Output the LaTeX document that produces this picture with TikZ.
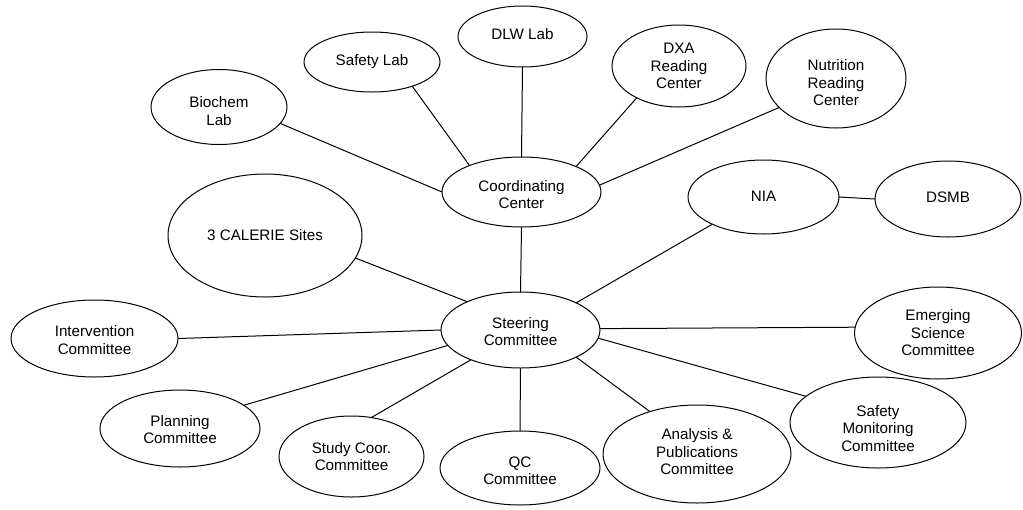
\documentclass[tikz,border=0pt]{standalone}
\usepackage{fontspec}
\setmainfont{Liberation Sans}
\usetikzlibrary{shapes.geometric}
\tikzset{
  el/.style n args={2}{ellipse,draw,line width=1pt,inner sep=0pt,outer sep=0pt,
    minimum width=#1pt,minimum height=#2pt},
  lab/.style={align=center,inner sep=0pt,font=\fontsize{15.2}{17.5}\selectfont},
  txt/.style n args={2}{label={[lab,yshift=#2]center:{#1}}},
  link/.style={draw,line width=1pt}
}
\begin{document}
\begin{tikzpicture}[x=1pt,y=-1pt]
\useasboundingbox[fill=white] (0,0) rectangle (1023,509);
% nodes
\node[el={136}{75},txt={Biochem\\Lab}{-4pt}] (bio) at (219,107) {};
\node[el={136}{60},txt={Safety Lab}{0pt}] (slab) at (372,62) {};
\node[el={129}{61},txt={DLW Lab}{2pt}] (dlw) at (522.5,36.5) {};
\node[el={134}{82},txt={DXA\\Reading\\Center}{0pt}] (dxa) at (679,66) {};
\node[el={140}{99},txt={Nutrition\\Reading\\Center}{-4.5pt}] (nut) at (836,78.5) {};
\node[el={159}{70},txt={Coordinating\\Center}{-2.5pt}] (coord) at (521.5,192) {};
\node[el={151}{74},txt={NIA}{1pt}] (nia) at (763.5,197) {};
\node[el={146}{76},txt={DSMB}{1.5pt}] (dsmb) at (948,199) {};
\node[el={194}{123},txt={3 CALERIE Sites}{0pt}] (cal) at (265,235.5) {};
\node[el={159}{76},txt={Steering\\Committee}{-1.5pt}] (steer) at (520.5,330) {};
\node[el={167}{77},txt={Intervention\\Committee}{-1.5pt}] (int) at (94.5,338.5) {};
\node[el={167}{92},txt={Emerging\\Science\\Committee}{0pt}] (emer) at (938,333) {};
\node[el={160}{77},txt={Planning\\Committee}{-1pt}] (plan) at (180,428.5) {};
\node[el={145}{81},txt={Study Coor.\\Committee}{0pt}] (study) at (351.5,456.5) {};
\node[el={160}{74},txt={QC\\Committee}{-3pt}] (qc) at (520,468) {};
\node[el={188}{98},txt={Analysis \&\\Publications\\Committee}{2pt}] (anal) at (697,454) {};
\node[el={176}{91},txt={Safety\\Monitoring\\Committee}{-6pt}] (smon) at (878,422.5) {};
% connectors
\draw[link] (bio.-15.3) -- (coord.180);
\draw[link] (slab.-31) -- (coord.153.6);
\draw[link] (dlw.-90) -- (coord.90);
\draw[link] (dxa.-143.6) -- (coord.25.1);
\draw[link] (nut.207.3) -- (coord.5.7);
\draw[link] (coord.-90) -- (steer.90);
\draw[link] (nia.east) -- (dsmb.west);
\draw[link] (steer.26) -- (nia.208.4);
\draw[link] (cal.-14.5) -- (steer.152.4);
\draw[link] (int.0) -- (steer.180);
\draw[link] (plan.20.7) -- (steer.192);
\draw[link] (study.63.2) -- (steer.211);
\draw[link] (steer.-90) -- (qc.90);
\draw[link] (steer.-26.4) -- (anal.138.7);
\draw[link] (steer.-6.5) -- (smon.160.2);
\draw[link] (steer.1.4) -- (emer.176.6);
\end{tikzpicture}
\end{document}
